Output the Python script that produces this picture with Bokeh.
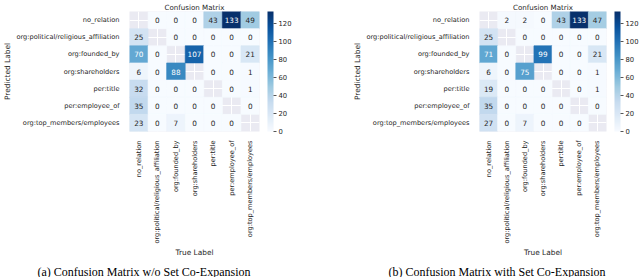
import math
from bokeh.plotting import figure
from bokeh.models import (LinearColorMapper, ColorBar, FixedTicker, Title,
                          ColumnDataSource)
from bokeh.layouts import row
from bokeh.palettes import Blues256
from bokeh.core.properties import value
from bokeh.embed import file_html
from bokeh.resources import INLINE

labels = ["no_relation", "org:political/religious_affiliation", "org:founded_by",
          "org:shareholders", "per:title", "per:employee_of",
          "org:top_members/employees"]

# rows = predicted label, columns = true label; None = masked diagonal
matrix_a = [
    [None, 0, 0, 0, 43, 133, 49],
    [25, None, 0, 0, 0, 0, 0],
    [70, 0, None, 107, 0, 0, 21],
    [6, 0, 88, None, 0, 0, 1],
    [32, 0, 0, 0, None, 0, 1],
    [35, 0, 0, 0, 0, None, 0],
    [23, 0, 7, 0, 0, 0, None],
]
matrix_b = [
    [None, 2, 2, 0, 43, 133, 47],
    [25, None, 0, 0, 0, 0, 0],
    [71, 0, None, 99, 0, 0, 21],
    [6, 0, 75, None, 0, 0, 1],
    [19, 0, 0, 0, None, 0, 1],
    [35, 0, 0, 0, 0, None, 0],
    [27, 0, 7, 0, 0, 0, None],
]
captions = ["(a) Confusion Matrix w/o Set Co-Expansion",
            "(b) Confusion Matrix with Set Co-Expansion"]
cbar_ticks = [0, 20, 40, 60, 80, 100, 120]

FONT = "DejaVu Sans"
TXT = "#262626"


def lum(hexc):
    r, g, b = (int(hexc[i:i + 2], 16) / 255 for i in (1, 3, 5))
    def lin(c):
        return c / 12.92 if c <= 0.03928 else ((c + 0.055) / 1.055) ** 2.4
    return 0.2126 * lin(r) + 0.7152 * lin(g) + 0.0722 * lin(b)


pal = list(Blues256)
if lum(pal[0]) < lum(pal[-1]):
    pal = pal[::-1]  # light -> dark


def make_panel(mat, caption, left_border, fw, fig_w, cap_off):
    vals = [v for r in mat for v in r if v is not None]
    vmax = max(vals)
    mapper = LinearColorMapper(palette=pal, low=0, high=vmax)
    xs, ys, vs, cs, tc = [], [], [], [], []
    for i, r in enumerate(mat):
        for j, v in enumerate(r):
            if v is None:
                continue
            xs.append(labels[j]); ys.append(labels[i]); vs.append(v)
            idx = min(len(pal) - 1, int(v / vmax * (len(pal) - 1)))
            col = pal[idx]
            cs.append(col)
            tc.append("#262626" if lum(col) > 0.408 else "#ffffff")
    src = ColumnDataSource(dict(x=xs, y=ys, v=vs, c=cs, tc=tc,
                                t=[str(v) for v in vs]))
    fh = 120
    p = figure(x_range=labels, y_range=labels[::-1],
               frame_width=fw, frame_height=fh,
               min_border_left=left_border,
               min_border_right=fig_w - left_border - fw,
               min_border_top=0, min_border_bottom=131,
               output_backend="svg", toolbar_location=None,
               title="Confusion Matrix")
    p.title.align = "center"
    p.title.text_font = FONT
    p.title.text_font_size = "7.1px"
    p.title.text_font_style = "normal"
    p.title.text_color = TXT
    p.title.standoff = 0
    p.background_fill_color = "#eaeaf2"
    p.border_fill_color = "white"
    p.outline_line_color = None
    for g in (p.xgrid, p.ygrid):
        g.grid_line_color = "white"
        g.grid_line_width = 1
    p.rect(x="x", y="y", width=1, height=1, source=src,
           fill_color="c", line_color="c", line_width=0.6)
    p.text(x="x", y="y", text="t", source=src, text_color="tc",
           text_align="center", text_baseline="middle",
           text_font=value(FONT), text_font_size="7.3px")
    for ax in (p.xaxis, p.yaxis):
        ax.axis_line_color = None
        ax.major_tick_line_color = None
        ax.minor_tick_line_color = None
        ax.major_label_text_font = FONT
        ax.major_label_text_font_size = "6.6px"
        ax.major_label_text_color = TXT
        ax.axis_label_text_font = FONT
        ax.axis_label_text_font_size = "7.4px"
        ax.axis_label_text_font_style = "normal"
        ax.axis_label_text_color = TXT
        ax.major_label_standoff = 4
        ax.axis_label_standoff = 1
    p.xaxis.major_label_standoff = 3
    p.xaxis.major_label_orientation = math.pi / 2
    p.xaxis.axis_label = "True Label"
    p.yaxis.axis_label = "Predicted Label"
    # invisible spacer between heatmap and colour bar
    spacer = Title(text=" ", text_font_size="5px", standoff=0,
                   text_color="white")
    p.add_layout(spacer, "right")
    cb = ColorBar(color_mapper=mapper, ticker=FixedTicker(ticks=cbar_ticks),
                  width=6, padding=0, margin=0,
                  major_label_text_font=FONT,
                  major_label_text_font_size="6.8px",
                  major_label_text_color=TXT,
                  major_tick_out=3, major_tick_in=0,
                  major_tick_line_color="#555555",
                  bar_line_color=None, border_line_color=None,
                  background_fill_color=None, label_standoff=2)
    p.add_layout(cb, "right")
    cap = Title(text=caption, align="left", offset=cap_off, standoff=6,
                text_font="Liberation Serif", text_font_size="12px",
                text_font_style="normal", text_color="black")
    p.add_layout(cap, "below")
    return p


p1 = make_panel(matrix_a, captions[0], 115, 130, 312, -92)
p2 = make_panel(matrix_b, captions[1], 153, 127, 312, -91)
layout = row(p1, p2)
open("out.html", "w").write(file_html(layout, INLINE))
